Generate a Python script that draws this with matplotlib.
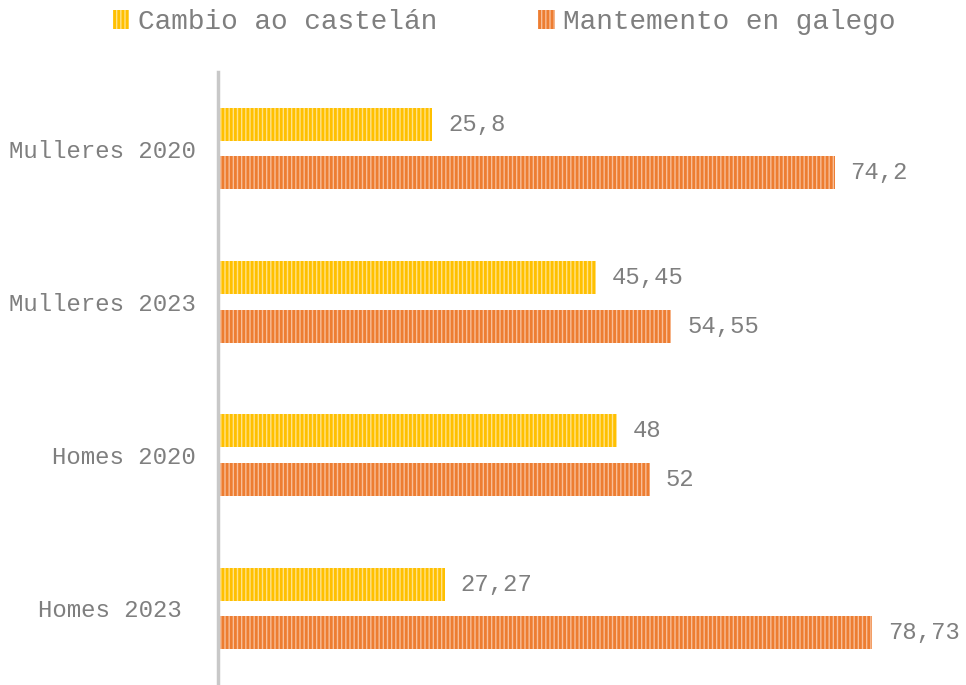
import matplotlib.pyplot as plt
import numpy as np

categorias = ["Mulleres 2020", "Mulleres 2023", "Homes 2020", "Homes 2023 "]
cambio = [25.8, 45.45, 48, 27.27]
mantemento = [74.2, 54.55, 52, 78.73]
etiquetas_cambio = ["25,8", "45,45", "48", "27,27"]
etiquetas_mantemento = ["74,2", "54,55", "52", "78,73"]

plt.rcParams['font.family'] = ['Liberation Mono', 'DejaVu Sans Mono']
plt.rcParams['hatch.linewidth'] = 2.0
gris = '#7f7f7f'

fig = plt.figure(figsize=(9.66, 6.85), dpi=100)
ax = fig.add_axes([218 / 966, 0, 748 / 966, 613 / 685])

y = np.arange(len(categorias))
alto = 0.215
desp = 0.158

b1 = ax.barh(y - desp, cambio, height=alto, color='#FFE28A', edgecolor='#FFC000',
             hatch='||||', linewidth=0, label='Cambio ao castelán')
b2 = ax.barh(y + desp, mantemento, height=alto, color='#F8BE98', edgecolor='#ED7D31',
             hatch='||||', linewidth=0, label='Mantemento en galego')

for i in range(len(categorias)):
    ax.text(cambio[i] + 1.9, y[i] - desp, etiquetas_cambio[i], va='center', ha='left',
            fontsize=17.2, color=gris)
    ax.text(mantemento[i] + 1.9, y[i] + desp, etiquetas_mantemento[i], va='center', ha='left',
            fontsize=17.2, color=gris)

ax.set_xlim(0, 90)
ax.set_ylim(3.5, -0.5)
ax.set_yticks(y)
ax.set_yticklabels(categorias, fontsize=17.3, color=gris)
ax.tick_params(axis='y', length=0, pad=16)
ax.set_xticks([])
for s in ['top', 'right', 'bottom']:
    ax.spines[s].set_visible(False)
ax.spines['left'].set_color('#c8c8c8')
ax.spines['left'].set_linewidth(2.5)

fig.legend(handles=[b1, b2], loc='center', bbox_to_anchor=(0.522, 1 - 22 / 685), ncol=2,
           frameon=False, fontsize=20, labelcolor=gris, handlelength=0.6, handleheight=0.7,
           handletextpad=0.3, columnspacing=3.65)

fig.savefig('out.png', dpi=100)
